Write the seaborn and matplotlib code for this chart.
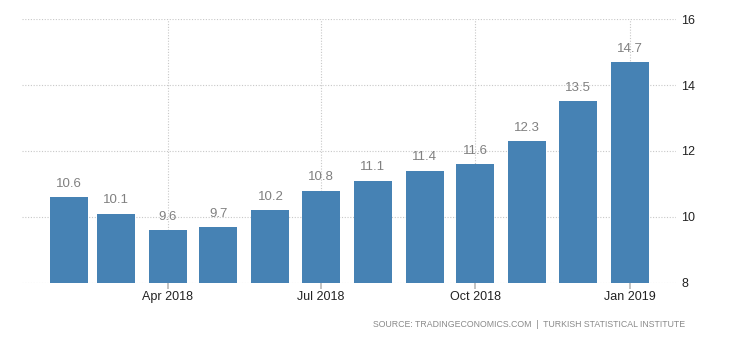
import matplotlib
matplotlib.use("Agg")
import matplotlib.pyplot as plt
import seaborn as sns
import pandas as pd

months = ["Feb 2018", "Mar 2018", "Apr 2018", "May 2018", "Jun 2018", "Jul 2018",
          "Aug 2018", "Sep 2018", "Oct 2018", "Nov 2018", "Dec 2018", "Jan 2019"]
values = [10.6, 10.1, 9.6, 9.7, 10.2, 10.8, 11.1, 11.4, 11.6, 12.3, 13.5, 14.7]
tick_labels = ["Apr 2018", "Jul 2018", "Oct 2018", "Jan 2019"]
y_ticks = [8, 10, 12, 14, 16]

sns.set_theme(style="white")
plt.rcParams['font.family'] = ['Liberation Sans', 'DejaVu Sans']

dates = pd.to_datetime(months, format="%b %Y")
day_pos = (dates - dates[0]).days.astype(float)
df = pd.DataFrame({"day": day_pos, "value": values})

fig = plt.figure(figsize=(7.3, 3.4), dpi=100)
ax = fig.add_axes([0.030, 0.168, 0.896, 0.776])

sns.barplot(data=df, x="day", y="value", color="#4682B4", saturation=1,
            native_scale=True, width=0.81, linewidth=0, ax=ax, zorder=3)

ax.set_ylim(8, 16)
ax.set_xlim(-28, 361.5)
ax.yaxis.tick_right()
ax.set_yticks(y_ticks)
ax.set_yticklabels([str(t) for t in y_ticks], fontsize=9, color="#222222")
tick_pos = [day_pos[months.index(m)] for m in tick_labels]
ax.set_xticks(tick_pos)
ax.set_xticklabels(tick_labels, fontsize=9, color="#222222")
ax.tick_params(axis="x", length=4, color="#bbbbbb", pad=2, bottom=True)
ax.tick_params(axis="y", length=0, pad=4)
ax.set_xlabel("")
ax.set_ylabel("")
for s in ax.spines.values():
    s.set_visible(False)

ax.grid(True, axis="both", linestyle=(0, (1, 1.5)), color="#c8c8c8", linewidth=0.8, zorder=0)
ax.set_axisbelow(True)

for x, v in zip(day_pos, values):
    ax.text(x, v + 0.22, f"{v}", ha="center", va="bottom", fontsize=9.5, color="#808080", zorder=4)

fig.text(0.938, 0.032, "SOURCE: TRADINGECONOMICS.COM  |  TURKISH STATISTICAL INSTITUTE",
         ha="right", va="bottom", fontsize=6.3, color="#8a8a8a")

fig.savefig("out.png", dpi=100)
